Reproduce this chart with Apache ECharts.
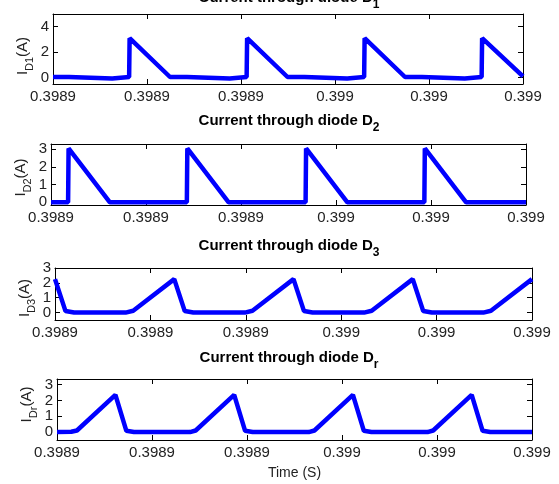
<!DOCTYPE html>
<html>
<head>
<meta charset="utf-8">
<script src="https://cdn.jsdelivr.net/npm/echarts@6/dist/echarts.min.js"></script>
<style>
  html, body { margin: 0; padding: 0; background: #fff; }
  #chart { width: 559px; height: 484px; }
</style>
</head>
<body>
<div id="chart"></div>
<script>
// time is in microseconds after 0.3989 s
const xTicks = [0, 20, 40, 60, 80, 100];
const xTickLabels = ['0.3989', '0.3989', '0.3989', '0.399', '0.399', '0.399'];

// diode D1
const d1Time = [0, 3.4, 3.5, 12.6, 12.7, 16.2, 16.3, 24.9, 28.5, 28.6, 37.6, 37.7, 41.2, 41.3, 49.9,
  53.5, 53.6, 62.6, 62.7, 66.2, 66.3, 74.9, 78.5, 78.6, 87.6, 87.7, 91.2, 91.3, 100];
const d1Current = [0.05, 0.05, -0.06, -0.06, 0.05, 0.05, 3.1, 0.05, 0.05, -0.06, -0.06, 0.05, 0.05, 3.1, 0.05,
  0.05, -0.06, -0.06, 0.05, 0.05, 3.1, 0.05, 0.05, -0.06, -0.06, 0.05, 0.05, 3.1, 0.1];
const d1YTicks = [0, 2, 4];

// diode D2
const d2Time = [0, 3.6, 3.7, 12.4, 28.6, 28.7, 37.4, 53.6, 53.7, 62.4, 78.6, 78.7, 87.4, 100];
const d2Current = [0, 0, 3.05, 0, 0, 3.05, 0, 0, 3.05, 0, 0, 3.05, 0, 0];
const d2YTicks = [0, 1, 2, 3];

// diode D3
const d3Time = [0, 2.2, 4, 14.8, 16.4, 25, 27.2, 29, 39.8, 41.4, 50, 52.2, 54, 64.8, 66.4, 75,
  77.2, 79, 89.8, 91.4, 100];
const d3Current = [2.25, 0.1, 0, 0, 0.12, 2.25, 0.1, 0, 0, 0.12, 2.25, 0.1, 0, 0, 0.12, 2.25,
  0.1, 0, 0, 0.12, 2.25];
const d3YTicks = [0, 1, 2, 3];

// diode Dr
const drTime = [0, 3, 4.2, 12.3, 14.6, 16.2, 28, 29.2, 37.3, 39.6, 41.2, 53, 54.2, 62.3, 64.6, 66.2,
  78, 79.2, 87.3, 89.6, 91.2, 100];
const drCurrent = [0, 0.02, 0.1, 2.35, 0.08, 0, 0, 0.1, 2.35, 0.08, 0, 0, 0.1, 2.35, 0.08, 0,
  0, 0.1, 2.35, 0.08, 0, 0];
const drYTicks = [0, 1, 2, 3];

const font = 'Liberation Sans, Arial, sans-serif';
const txt = '#222';

// namePad: [right, left] padding of the rotated y label (moves it down / up)
const panels = [
  { sub: '1', time: d1Time, cur: d1Current, ticks: d1YTicks, min: -0.5, max: 5,
    grid: { left: 53, top: 14, width: 470, height: 70 }, titleTop: -10, namePad: [14, 0] },
  { sub: '2', time: d2Time, cur: d2Current, ticks: d2YTicks, min: -0.15, max: 3.3,
    grid: { left: 51, top: 144, width: 475, height: 61 }, titleTop: 113, namePad: [6, 0] },
  { sub: '3', time: d3Time, cur: d3Current, ticks: d3YTicks, min: -0.5, max: 3,
    grid: { left: 55, top: 268, width: 477, height: 52 }, titleTop: 238, namePad: [8, 0] },
  { sub: 'r', time: drTime, cur: drCurrent, ticks: drYTicks, min: -0.5, max: 3.35,
    grid: { left: 57, top: 379, width: 475, height: 61 }, titleTop: 350, namePad: [0, 10] }
];

// subscript: small token aligned to the bottom of a taller line
const richTitle = {
  t: { fontSize: 15, fontWeight: 'bold', fontFamily: font, color: '#000', lineHeight: 16, verticalAlign: 'top' },
  s: { fontSize: 12, fontWeight: 'bold', fontFamily: font, color: '#000', lineHeight: 21, verticalAlign: 'bottom' }
};
const richName = {
  i: { fontSize: 15, fontFamily: font, color: txt, lineHeight: 16, verticalAlign: 'top' },
  s: { fontSize: 11, fontFamily: font, color: txt, lineHeight: 20, verticalAlign: 'bottom' },
  a: { fontSize: 15, fontFamily: font, color: txt, lineHeight: 16, verticalAlign: 'top' }
};

const tickLine = { color: '#000', width: 1 };

let grids = [], xAxes = [], yAxes = [], series = [], titles = [];

panels.forEach((p, i) => {
  grids.push(p.grid);

  titles.push({
    text: '{t|Current through diode D}{s|' + p.sub + '}',
    left: 289, top: p.titleTop, textAlign: 'center', padding: 0,
    textStyle: { rich: richTitle }
  });

  // bottom and top x axes
  xAxes.push({
    gridIndex: i, type: 'value', min: 0, max: 100, interval: 20, position: 'bottom',
    axisLine: { show: true, onZero: false, lineStyle: tickLine },
    axisTick: { show: true, inside: true, length: 5, lineStyle: tickLine },
    axisLabel: {
      margin: 5, fontSize: 15, fontFamily: font, color: txt,
      showMinLabel: true, showMaxLabel: true,
      formatter: v => xTickLabels[xTicks.indexOf(v)]
    },
    splitLine: { show: false },
    name: i === 3 ? 'Time (S)' : '', nameLocation: 'middle', nameGap: 26,
    nameTextStyle: { fontSize: 14, fontFamily: font, color: txt }
  });
  xAxes.push({
    gridIndex: i, type: 'value', min: 0, max: 100, interval: 20, position: 'top',
    axisLine: { show: true, onZero: false, lineStyle: tickLine },
    axisTick: { show: true, inside: true, length: 5, lineStyle: tickLine },
    axisLabel: { show: false }, splitLine: { show: false }
  });

  // left and right y axes
  yAxes.push({
    gridIndex: i, type: 'value', min: p.min, max: p.max, position: 'left',
    axisLine: { show: true, onZero: false, lineStyle: tickLine },
    axisTick: { show: true, inside: true, length: 5, lineStyle: tickLine, customValues: p.ticks },
    axisLabel: { margin: 4, fontSize: 15, fontFamily: font, color: txt, customValues: p.ticks },
    splitLine: { show: false },
    name: '{i|I}{s|D' + p.sub + '}{a|(A)}',
    nameLocation: 'middle', nameRotate: 90, nameGap: 18, nameMoveOverlap: false,
    nameTextStyle: { padding: [0, p.namePad[0], 0, p.namePad[1]], rich: richName }
  });
  yAxes.push({
    gridIndex: i, type: 'value', min: p.min, max: p.max, position: 'right',
    axisLine: { show: true, onZero: false, lineStyle: tickLine },
    axisTick: { show: true, inside: true, length: 5, lineStyle: tickLine, customValues: p.ticks },
    axisLabel: { show: false, customValues: p.ticks }, splitLine: { show: false }
  });

  series.push({
    type: 'line', xAxisIndex: i * 2, yAxisIndex: i * 2,
    showSymbol: false, symbol: 'none',
    lineStyle: { color: '#0000ff', width: 4.5 },
    data: p.time.map((t, k) => [t, p.cur[k]])
  });
});

const chart = echarts.init(document.getElementById('chart'));
chart.setOption({
  animation: false,
  backgroundColor: '#fff',
  title: titles,
  grid: grids,
  xAxis: xAxes,
  yAxis: yAxes,
  series: series
});
</script>
</body>
</html>
